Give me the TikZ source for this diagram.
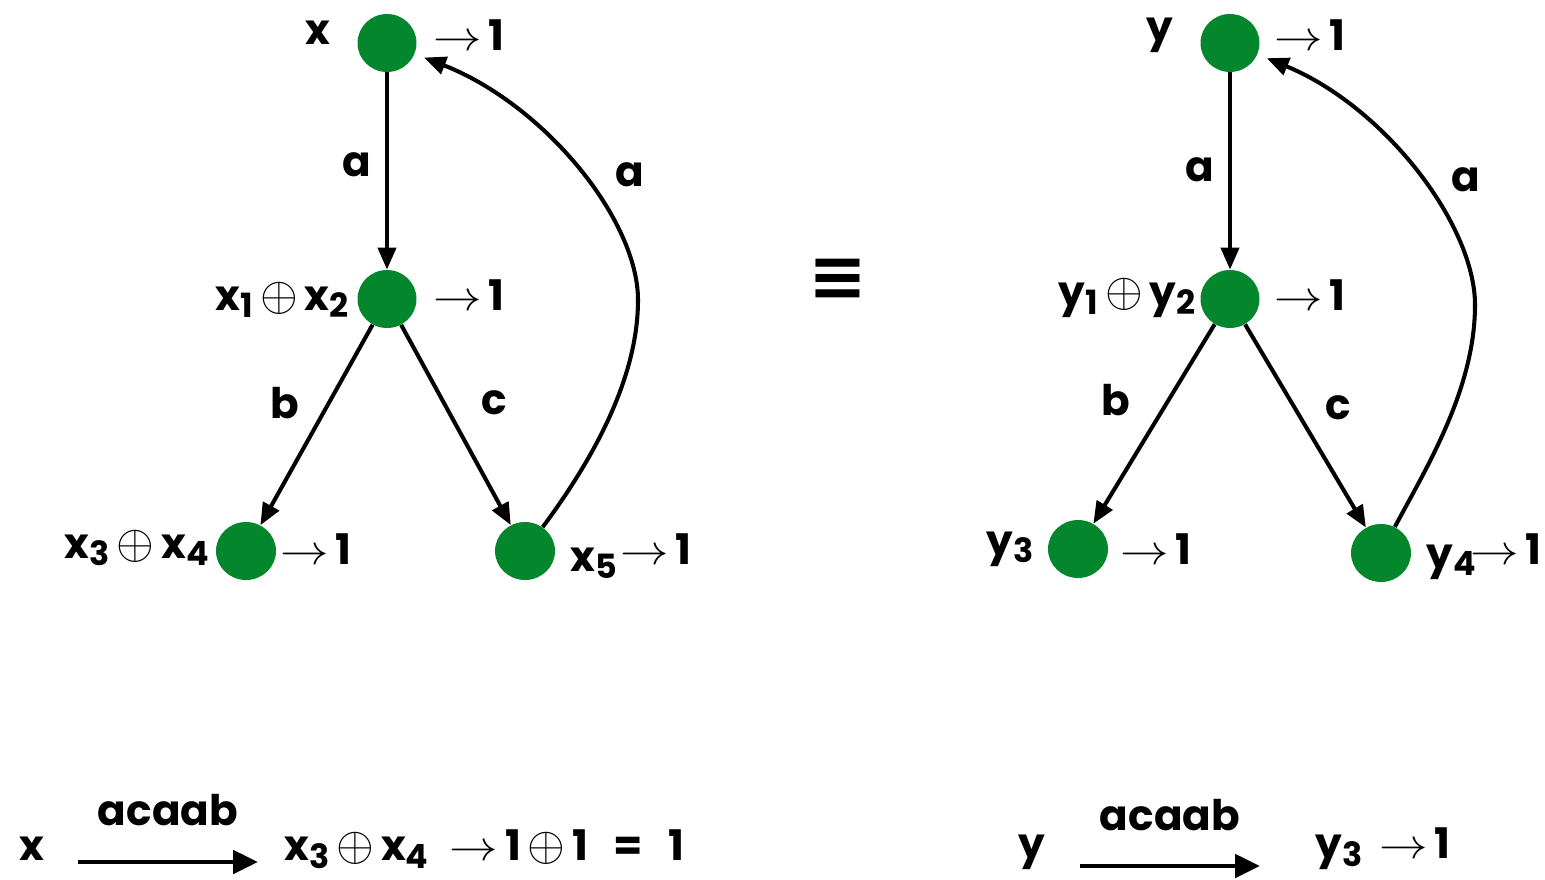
\RequirePackage{fix-cm}
\documentclass[tikz,border=0pt]{standalone}
\usepackage{fontspec}
\setmainfont{Poppins}
\newfontfamily\symfont{DejaVu Sans}
\usetikzlibrary{arrows.meta,shapes.geometric}
\definecolor{stategreen}{RGB}{3,134,44}
\newcommand\sbs[1]{\raisebox{-0.32ex}{\fontsize{19}{19}\selectfont #1}}
\newcommand\opl{\,\scalebox{1.15}{$\oplus$}\,}
\newcommand\arr{\scalebox{1.15}[1]{$\rightarrow$}\,}
\tikzset{
  state/.style={ellipse,fill=stategreen,minimum width=1.18cm,minimum height=1.16cm,inner sep=0pt},
  txt/.style={font=\bfseries\fontsize{24}{28}\selectfont,inner sep=0pt},
  edge/.style={line width=2.3pt,-{Triangle[length=0.44cm,width=0.36cm]}},
  big/.style={line width=2.8pt,-{Triangle[length=0.5cm,width=0.46cm]}}
}
\begin{document}
\begin{tikzpicture}[x=0.02cm,y=-0.02cm]
\useasboundingbox (0,0) rectangle (1545,879);
% left automaton
\node[state] (x) at (387,43) {};
\node[state] (x12) at (387,299) {};
\node[state,minimum width=1.2cm] (x34) at (246,551) {};
\node[state,minimum width=1.2cm] (x5) at (525,551) {};
\node[txt] (lx) at (318,33) {x};
\node[txt,anchor=west] (ox) at (433,35) {\arr1};
\node[txt,anchor=east] (lx12) at (349,300) {x\sbs{1}\opl x\sbs{2}};
\node[txt,anchor=west] (ox12) at (433,295) {\arr1};
\node[txt,anchor=east] (lx34) at (209,548) {x\sbs{3}\opl x\sbs{4}};
\node[txt,anchor=west] (ox34) at (280,549) {\arr1};
\node[txt,anchor=west] (lx5) at (570,563) {x\sbs{5}};
\node[txt,anchor=west] (ox5) at (620,549) {\arr1};
\draw[edge] (x) -- (x12);
\draw[edge] (x12) -- (x34);
\draw[edge] (x12) -- (x5);
\draw[edge,shorten >=0.2cm] (x5) .. controls (585,470) and (638,385) .. (638,300)
  .. controls (638,220) and (545,105) .. (x);
\node[txt] (ea1) at (357,165) {a};
\node[txt] (ea2) at (630,175) {a};
\node[txt] (eb) at (285,403) {b};
\node[txt] (ec) at (494,403) {c};
% equivalence
\node[inner sep=0pt,font=\symfont\bfseries\fontsize{40}{40}\selectfont] (eq) at (838,280) {≡};
% right automaton
\node[state] (y) at (1230,43) {};
\node[state] (y12) at (1230,299) {};
\node[state,minimum width=1.2cm] (y3) at (1078,549) {};
\node[state,minimum width=1.2cm] (y4) at (1381,553) {};
\node[txt] (ly) at (1160,35) {y};
\node[txt,anchor=west] (oy) at (1274,35) {\arr1};
\node[txt,anchor=east] (ly12) at (1196,298) {y\sbs{1}\opl y\sbs{2}};
\node[txt,anchor=west] (oy12) at (1274,295) {\arr1};
\node[txt,anchor=east] (ly3) at (1034,549) {y\sbs{3}};
\node[txt,anchor=west] (oy3) at (1120,549) {\arr1};
\node[txt,anchor=west] (ly4) at (1426,562) {y\sbs{4}};
\node[txt,anchor=west] (oy4) at (1470,549) {\arr1};
\draw[edge] (y) -- (y12);
\draw[edge] (y12) -- (y3);
\draw[edge] (y12) -- (y4);
\draw[edge,shorten >=0.2cm] (y4) .. controls (1425,470) and (1475,390) .. (1475,305)
  .. controls (1475,225) and (1385,107) .. (y);
\node[txt] (fa1) at (1200,170) {a};
\node[txt] (fa2) at (1466,180) {a};
\node[txt] (fb) at (1116,400) {b};
\node[txt] (fc) at (1338,408) {c};
% bottom runs
\node[txt] (bx) at (32,849) {x};
\node[txt] (bw1) at (168,810) {acaab};
\node[txt,anchor=west] (bres) at (284,849) {x\sbs{3}\opl x\sbs{4}\hspace{0.5em}\arr1\opl1\hspace{0.6em}=\hspace{0.6em}1};
\coordinate (bs1) at (78,862);
\coordinate (be1) at (258,862);
\draw[big] (bs1) -- (be1);
\node[txt] (by) at (1032,852) {y};
\node[txt] (bw2) at (1170,815) {acaab};
\node[txt,anchor=west] (byres) at (1315,849) {y\sbs{3}\hspace{0.4em}\arr1};
\coordinate (bs2) at (1080,866);
\coordinate (be2) at (1260,866);
\draw[big] (bs2) -- (be2);
\end{tikzpicture}
\end{document}
